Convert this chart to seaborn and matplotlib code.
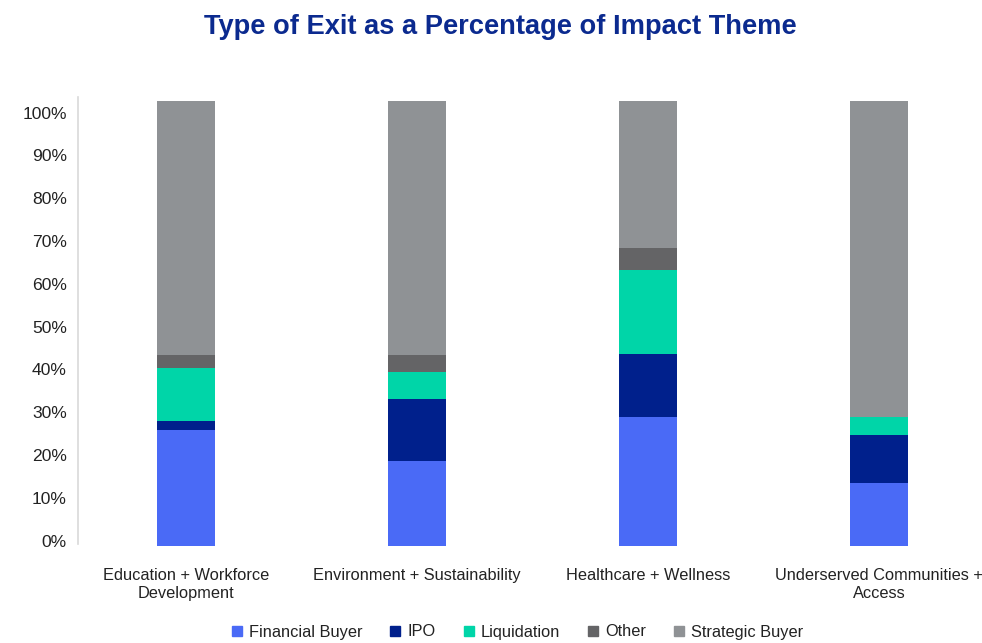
import numpy as np
import pandas as pd
import matplotlib
matplotlib.use("Agg")
import matplotlib.pyplot as plt
from matplotlib.lines import Line2D
import seaborn as sns

categories = ["Education + Workforce\nDevelopment", "Environment + Sustainability",
              "Healthcare + Wellness", "Underserved Communities +\nAccess"]
series = ["Financial Buyer", "IPO", "Liquidation", "Other", "Strategic Buyer"]
financial_buyer = [26.1, 19.1, 29.1, 14.2]
ipo = [2.1, 13.9, 14.0, 10.7]
liquidation = [11.8, 6.1, 18.9, 4.1]
other = [2.9, 3.8, 5.0, 0.0]
strategic_buyer = [57.1, 57.1, 33.0, 71.0]
colors = ["#4A6AF6", "#00208C", "#00D5A8", "#646466", "#8F9295"]
yticks = [0, 10, 20, 30, 40, 50, 60, 70, 80, 90, 100]

sns.set_theme(style="white")
plt.rcParams['font.family'] = ['Liberation Sans', 'DejaVu Sans']

df = pd.DataFrame({"category": categories,
                   "Financial Buyer": financial_buyer, "IPO": ipo,
                   "Liquidation": liquidation, "Other": other,
                   "Strategic Buyer": strategic_buyer})
cum = df[series].cumsum(axis=1)

fig = plt.figure(figsize=(9.82, 6.43), dpi=100)
ax = fig.add_axes([78/982, (643-546)/643, (982-78)/982, 445/643])

for s, c in reversed(list(zip(series, colors))):
    sns.barplot(x=df["category"], y=cum[s], color=c, width=0.251,
                saturation=1, ax=ax, linewidth=0)

ax.set_xlim(-108/231, 3 + 103/231)
ax.set_ylim(0, 100)
# label positions as rendered in the reference (slightly compressed scale)
ax.set_yticks([1.19 + 0.962 * v for v in yticks])
ax.set_yticklabels([f"{v}%" for v in yticks], fontsize=12.6, color="#222222")
ax.tick_params(axis="y", length=0, pad=8)
ax.tick_params(axis="x", length=0, pad=15.5)
for lbl in ax.get_xticklabels():
    lbl.set_fontsize(11.8)
    lbl.set_color("#222222")
    lbl.set_linespacing(1.25)
ax.set_xlabel("")
ax.set_ylabel("")
for side in ["top", "right", "bottom"]:
    ax.spines[side].set_visible(False)
ax.spines["left"].set_color("#d9d9d9")
ax.spines["left"].set_linewidth(1.2)
ax.spines["left"].set_bounds(0.5, 101)

fig.text(500/982, 1 - 26.5/643, "Type of Exit as a Percentage of Impact Theme",
         ha="center", va="center", fontsize=19.6, fontweight="bold", color="#0B2A8F")

handles = [Line2D([0], [0], marker="s", linestyle="", markersize=7,
                  markerfacecolor=c, markeredgecolor=c) for c in colors]
leg = fig.legend(handles, series, loc="center", bbox_to_anchor=(516/982, 1 - 632/643),
                 ncol=5, frameon=False, fontsize=11.8, handletextpad=0.25,
                 columnspacing=1.5, handlelength=1.0)
for t in leg.get_texts():
    t.set_color("#222222")

fig.savefig("out.png", dpi=100)
